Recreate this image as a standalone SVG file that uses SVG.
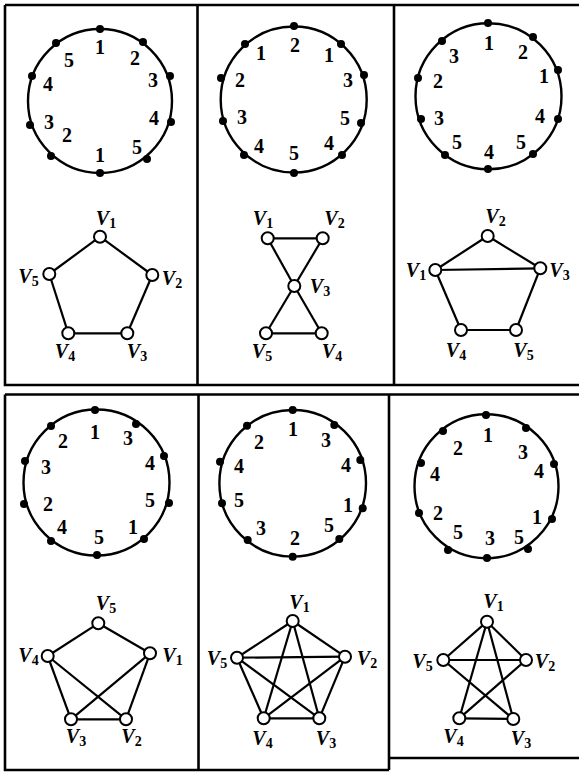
<svg xmlns="http://www.w3.org/2000/svg" width="579" height="773" viewBox="0 0 579 773">
<style>
.frame{fill:none;stroke:#000;stroke-width:2.6}
.ring{fill:none;stroke:#000;stroke-width:2.4}
.dot{fill:#000}
.num{font-family:"Liberation Serif","Times New Roman",serif;font-size:20px;font-weight:bold;text-anchor:middle;dominant-baseline:central;fill:#000}
.edges line{stroke:#000;stroke-width:2.2}
.node circle{fill:#fff;stroke:#000;stroke-width:2}
.lbl{font-family:"Liberation Serif","Times New Roman",serif;font-style:italic;font-weight:bold;font-size:20px;text-anchor:middle;fill:#000}
.sub{font-style:normal;font-size:14px}
</style>
<g id="frames">
<path class="frame" d="M5,5H579M5,5V385H579M197.5,5V385M394,5V385"/>
<path class="frame" d="M5,394.5H579M5,394.5V770H389M198.5,394.5V770M389,394.5V770M389,758H579"/>
</g>

<!-- Panel 1 -->
<g id="circle1">
<circle class="ring" cx="100" cy="101" r="72"/>
<circle class="dot" cx="100" cy="29" r="4"/><circle class="dot" cx="143" cy="42" r="4"/><circle class="dot" cx="170" cy="76" r="4"/><circle class="dot" cx="171" cy="122" r="4"/><circle class="dot" cx="147" cy="159" r="4"/><circle class="dot" cx="100" cy="173" r="4"/><circle class="dot" cx="51" cy="156" r="4"/><circle class="dot" cx="30" cy="125" r="4"/><circle class="dot" cx="32" cy="76" r="4"/><circle class="dot" cx="56" cy="43" r="4"/>
<text class="num" x="100" y="47">1</text><text class="num" x="135" y="58">2</text><text class="num" x="153" y="80">3</text><text class="num" x="154" y="118">4</text><text class="num" x="137" y="147">5</text><text class="num" x="100" y="155">1</text><text class="num" x="67" y="135">2</text><text class="num" x="49" y="122">3</text><text class="num" x="48" y="84">4</text><text class="num" x="69" y="60">5</text>
</g>
<g id="graph1">
<g class="edges">
<line x1="100" y1="236.7" x2="152.3" y2="275"/><line x1="152.3" y1="275" x2="127.3" y2="333.3"/><line x1="127.3" y1="333.3" x2="68.3" y2="333.3"/><line x1="68.3" y1="333.3" x2="49.3" y2="274"/><line x1="49.3" y1="274" x2="100" y2="236.7"/>
</g>
<g id="g1v1" class="node"><circle cx="100" cy="236.7" r="6"/><text class="lbl" x="106" y="225">V<tspan class="sub" dy="3">1</tspan></text></g>
<g id="g1v2" class="node"><circle cx="152.3" cy="275" r="6"/><text class="lbl" x="172" y="285">V<tspan class="sub" dy="3">2</tspan></text></g>
<g id="g1v3" class="node"><circle cx="127.3" cy="333.3" r="6"/><text class="lbl" x="137" y="358">V<tspan class="sub" dy="3">3</tspan></text></g>
<g id="g1v4" class="node"><circle cx="68.3" cy="333.3" r="6"/><text class="lbl" x="65" y="358">V<tspan class="sub" dy="3">4</tspan></text></g>
<g id="g1v5" class="node"><circle cx="49.3" cy="274" r="6"/><text class="lbl" x="28.5" y="283">V<tspan class="sub" dy="3">5</tspan></text></g>
</g>

<!-- Panel 2 -->
<g id="circle2">
<circle class="ring" cx="293.7" cy="99.5" r="73"/>
<circle class="dot" cx="294" cy="26" r="4"/><circle class="dot" cx="341" cy="44" r="4"/><circle class="dot" cx="364" cy="75" r="4"/><circle class="dot" cx="361" cy="123" r="4"/><circle class="dot" cx="342" cy="155" r="4"/><circle class="dot" cx="294" cy="173" r="4"/><circle class="dot" cx="244" cy="155" r="4"/><circle class="dot" cx="223" cy="121" r="4"/><circle class="dot" cx="221" cy="78" r="4"/><circle class="dot" cx="245" cy="44" r="4"/>
<text class="num" x="295" y="45">2</text><text class="num" x="329" y="55">1</text><text class="num" x="348" y="80">3</text><text class="num" x="345" y="118">5</text><text class="num" x="329" y="143">4</text><text class="num" x="294" y="153">5</text><text class="num" x="259" y="146">4</text><text class="num" x="242" y="117">3</text><text class="num" x="240" y="80">2</text><text class="num" x="261" y="53">1</text>
</g>
<g id="graph2">
<g class="edges">
<line x1="267.7" y1="238.3" x2="322.7" y2="238.3"/><line x1="267.7" y1="238.3" x2="294.3" y2="286"/><line x1="322.7" y1="238.3" x2="294.3" y2="286"/><line x1="294.3" y1="286" x2="266" y2="333.3"/><line x1="294.3" y1="286" x2="321.7" y2="333.3"/><line x1="266" y1="333.3" x2="321.7" y2="333.3"/>
</g>
<g id="g2v1" class="node"><circle cx="267.7" cy="238.3" r="6"/><text class="lbl" x="263" y="225">V<tspan class="sub" dy="3">1</tspan></text></g>
<g id="g2v2" class="node"><circle cx="322.7" cy="238.3" r="6"/><text class="lbl" x="334.5" y="225">V<tspan class="sub" dy="3">2</tspan></text></g>
<g id="g2v3" class="node"><circle cx="294.3" cy="286" r="6"/><text class="lbl" x="320" y="293">V<tspan class="sub" dy="3">3</tspan></text></g>
<g id="g2v4" class="node"><circle cx="321.7" cy="333.3" r="6"/><text class="lbl" x="332" y="358">V<tspan class="sub" dy="3">4</tspan></text></g>
<g id="g2v5" class="node"><circle cx="266" cy="333.3" r="6"/><text class="lbl" x="262" y="358">V<tspan class="sub" dy="3">5</tspan></text></g>
</g>

<!-- Panel 3 -->
<g id="circle3">
<circle class="ring" cx="488.5" cy="96.3" r="73"/>
<circle class="dot" cx="488" cy="23" r="4"/><circle class="dot" cx="533" cy="37" r="4"/><circle class="dot" cx="558" cy="70" r="4"/><circle class="dot" cx="558" cy="119" r="4"/><circle class="dot" cx="533" cy="154" r="4"/><circle class="dot" cx="488" cy="169" r="4"/><circle class="dot" cx="445" cy="155" r="4"/><circle class="dot" cx="421" cy="119" r="4"/><circle class="dot" cx="418" cy="78" r="4"/><circle class="dot" cx="442" cy="41" r="4"/>
<text class="num" x="489" y="43">1</text><text class="num" x="523" y="52">2</text><text class="num" x="544" y="76">1</text><text class="num" x="540" y="116">4</text><text class="num" x="521" y="142">5</text><text class="num" x="489" y="152">4</text><text class="num" x="457" y="142">5</text><text class="num" x="439" y="118">3</text><text class="num" x="438" y="81">2</text><text class="num" x="454" y="56">3</text>
</g>
<g id="graph3">
<g class="edges">
<line x1="487.7" y1="236" x2="435.3" y2="270"/><line x1="487.7" y1="236" x2="540.3" y2="268.3"/><line x1="435.3" y1="270" x2="540.3" y2="268.3"/><line x1="435.3" y1="270" x2="461" y2="330"/><line x1="461" y1="330" x2="516" y2="330"/><line x1="516" y1="330" x2="540.3" y2="268.3"/>
</g>
<g id="g3v1" class="node"><circle cx="435.3" cy="270" r="6"/><text class="lbl" x="416" y="277">V<tspan class="sub" dy="3">1</tspan></text></g>
<g id="g3v2" class="node"><circle cx="487.7" cy="236" r="6"/><text class="lbl" x="495.5" y="223">V<tspan class="sub" dy="3">2</tspan></text></g>
<g id="g3v3" class="node"><circle cx="540.3" cy="268.3" r="6"/><text class="lbl" x="559.5" y="277">V<tspan class="sub" dy="3">3</tspan></text></g>
<g id="g3v4" class="node"><circle cx="461" cy="330" r="6"/><text class="lbl" x="456" y="356.5">V<tspan class="sub" dy="3">4</tspan></text></g>
<g id="g3v5" class="node"><circle cx="516" cy="330" r="6"/><text class="lbl" x="523.5" y="356.5">V<tspan class="sub" dy="3">5</tspan></text></g>
</g>

<!-- Panel 4 -->
<g id="circle4">
<circle class="ring" cx="96.5" cy="482.5" r="73"/>
<circle class="dot" cx="95" cy="410" r="4"/><circle class="dot" cx="136" cy="424" r="4"/><circle class="dot" cx="164" cy="456" r="4"/><circle class="dot" cx="169" cy="503" r="4"/><circle class="dot" cx="144" cy="539" r="4"/><circle class="dot" cx="97" cy="555" r="4"/><circle class="dot" cx="51" cy="541" r="4"/><circle class="dot" cx="24" cy="504" r="4"/><circle class="dot" cx="25" cy="461" r="4"/><circle class="dot" cx="51" cy="426" r="4"/>
<text class="num" x="95" y="432">1</text><text class="num" x="128" y="438">3</text><text class="num" x="150" y="463">4</text><text class="num" x="150" y="500">5</text><text class="num" x="133" y="527">1</text><text class="num" x="99" y="537">5</text><text class="num" x="62" y="527">4</text><text class="num" x="48" y="504">2</text><text class="num" x="46" y="467">3</text><text class="num" x="63" y="441">2</text>
</g>
<g id="graph4">
<g class="edges">
<line x1="98.3" y1="623.3" x2="47.7" y2="656"/><line x1="98.3" y1="623.3" x2="150" y2="653.3"/><line x1="47.7" y1="656" x2="71" y2="719.3"/><line x1="47.7" y1="656" x2="126" y2="719.3"/><line x1="150" y1="653.3" x2="71" y2="719.3"/><line x1="150" y1="653.3" x2="126" y2="719.3"/><line x1="71" y1="719.3" x2="126" y2="719.3"/>
</g>
<g id="g4v1" class="node"><circle cx="150" cy="653.3" r="6"/><text class="lbl" x="172.5" y="662">V<tspan class="sub" dy="3">1</tspan></text></g>
<g id="g4v2" class="node"><circle cx="126" cy="719.3" r="6"/><text class="lbl" x="131.5" y="743">V<tspan class="sub" dy="3">2</tspan></text></g>
<g id="g4v3" class="node"><circle cx="71" cy="719.3" r="6"/><text class="lbl" x="76" y="743">V<tspan class="sub" dy="3">3</tspan></text></g>
<g id="g4v4" class="node"><circle cx="47.7" cy="656" r="6"/><text class="lbl" x="28.5" y="662">V<tspan class="sub" dy="3">4</tspan></text></g>
<g id="g4v5" class="node"><circle cx="98.3" cy="623.3" r="6"/><text class="lbl" x="106" y="610">V<tspan class="sub" dy="3">5</tspan></text></g>
</g>

<!-- Panel 5 -->
<g id="circle5">
<circle class="ring" cx="292.7" cy="483.3" r="73.3"/>
<circle class="dot" cx="292.7" cy="410" r="4"/><circle class="dot" cx="334.3" cy="425" r="4"/><circle class="dot" cx="360.3" cy="460" r="4"/><circle class="dot" cx="362.7" cy="508.3" r="4"/><circle class="dot" cx="339.3" cy="539" r="4"/><circle class="dot" cx="292.7" cy="556.7" r="4"/><circle class="dot" cx="247.7" cy="540" r="4"/><circle class="dot" cx="222" cy="503.3" r="4"/><circle class="dot" cx="220" cy="461.7" r="4"/><circle class="dot" cx="247" cy="425.7" r="4"/>
<text class="num" x="293" y="429">1</text><text class="num" x="326" y="440">3</text><text class="num" x="346" y="465">4</text><text class="num" x="348" y="505">1</text><text class="num" x="329" y="525">5</text><text class="num" x="295" y="538">2</text><text class="num" x="261" y="528">3</text><text class="num" x="239" y="500">5</text><text class="num" x="239" y="466">4</text><text class="num" x="259" y="442">2</text>
</g>
<g id="graph5">
<g class="edges">
<line x1="292.7" y1="621" x2="237" y2="657.7"/><line x1="292.7" y1="621" x2="345" y2="656.7"/><line x1="292.7" y1="621" x2="263.7" y2="718.3"/><line x1="292.7" y1="621" x2="319.3" y2="718.3"/><line x1="237" y1="657.7" x2="345" y2="656.7"/><line x1="237" y1="657.7" x2="263.7" y2="718.3"/><line x1="237" y1="657.7" x2="319.3" y2="718.3"/><line x1="345" y1="656.7" x2="263.7" y2="718.3"/><line x1="345" y1="656.7" x2="319.3" y2="718.3"/><line x1="263.7" y1="718.3" x2="319.3" y2="718.3"/>
</g>
<g id="g5v1" class="node"><circle cx="292.7" cy="621" r="6"/><text class="lbl" x="299.5" y="609">V<tspan class="sub" dy="3">1</tspan></text></g>
<g id="g5v2" class="node"><circle cx="345" cy="656.7" r="6"/><text class="lbl" x="367" y="665">V<tspan class="sub" dy="3">2</tspan></text></g>
<g id="g5v3" class="node"><circle cx="319.3" cy="718.3" r="6"/><text class="lbl" x="326" y="745">V<tspan class="sub" dy="3">3</tspan></text></g>
<g id="g5v4" class="node"><circle cx="263.7" cy="718.3" r="6"/><text class="lbl" x="262.5" y="745">V<tspan class="sub" dy="3">4</tspan></text></g>
<g id="g5v5" class="node"><circle cx="237" cy="657.7" r="6"/><text class="lbl" x="217" y="665">V<tspan class="sub" dy="3">5</tspan></text></g>
</g>

<!-- Panel 6 -->
<g id="circle6">
<circle class="ring" cx="486.5" cy="486.3" r="72"/>
<circle class="dot" cx="486" cy="415" r="4"/><circle class="dot" cx="526" cy="428" r="4"/><circle class="dot" cx="554" cy="464" r="4"/><circle class="dot" cx="552" cy="519" r="4"/><circle class="dot" cx="528" cy="549" r="4"/><circle class="dot" cx="487" cy="558" r="4"/><circle class="dot" cx="448" cy="550" r="4"/><circle class="dot" cx="419" cy="513" r="4"/><circle class="dot" cx="421" cy="463" r="4"/><circle class="dot" cx="443" cy="431" r="4"/>
<text class="num" x="488" y="435">1</text><text class="num" x="523" y="452">3</text><text class="num" x="539" y="471">4</text><text class="num" x="537" y="517">1</text><text class="num" x="519" y="537">5</text><text class="num" x="490" y="538">3</text><text class="num" x="458" y="532">5</text><text class="num" x="438" y="513">2</text><text class="num" x="435" y="474">4</text><text class="num" x="458" y="448">2</text>
</g>
<g id="graph6">
<g class="edges">
<line x1="487" y1="621.7" x2="443.3" y2="660"/><line x1="487" y1="621.7" x2="526" y2="660"/><line x1="487" y1="621.7" x2="459.3" y2="718.3"/><line x1="487" y1="621.7" x2="513.3" y2="719"/><line x1="443.3" y1="660" x2="526" y2="660"/><line x1="443.3" y1="660" x2="513.3" y2="719"/><line x1="526" y1="660" x2="459.3" y2="718.3"/><line x1="459.3" y1="718.3" x2="513.3" y2="719"/>
</g>
<g id="g6v1" class="node"><circle cx="487" cy="621.7" r="6"/><text class="lbl" x="493.5" y="608">V<tspan class="sub" dy="3">1</tspan></text></g>
<g id="g6v2" class="node"><circle cx="526" cy="660" r="6"/><text class="lbl" x="545" y="668">V<tspan class="sub" dy="3">2</tspan></text></g>
<g id="g6v3" class="node"><circle cx="513.3" cy="719" r="6"/><text class="lbl" x="521" y="745">V<tspan class="sub" dy="3">3</tspan></text></g>
<g id="g6v4" class="node"><circle cx="459.3" cy="718.3" r="6"/><text class="lbl" x="453.5" y="743">V<tspan class="sub" dy="3">4</tspan></text></g>
<g id="g6v5" class="node"><circle cx="443.3" cy="660" r="6"/><text class="lbl" x="422.5" y="668">V<tspan class="sub" dy="3">5</tspan></text></g>
</g>
</svg>
